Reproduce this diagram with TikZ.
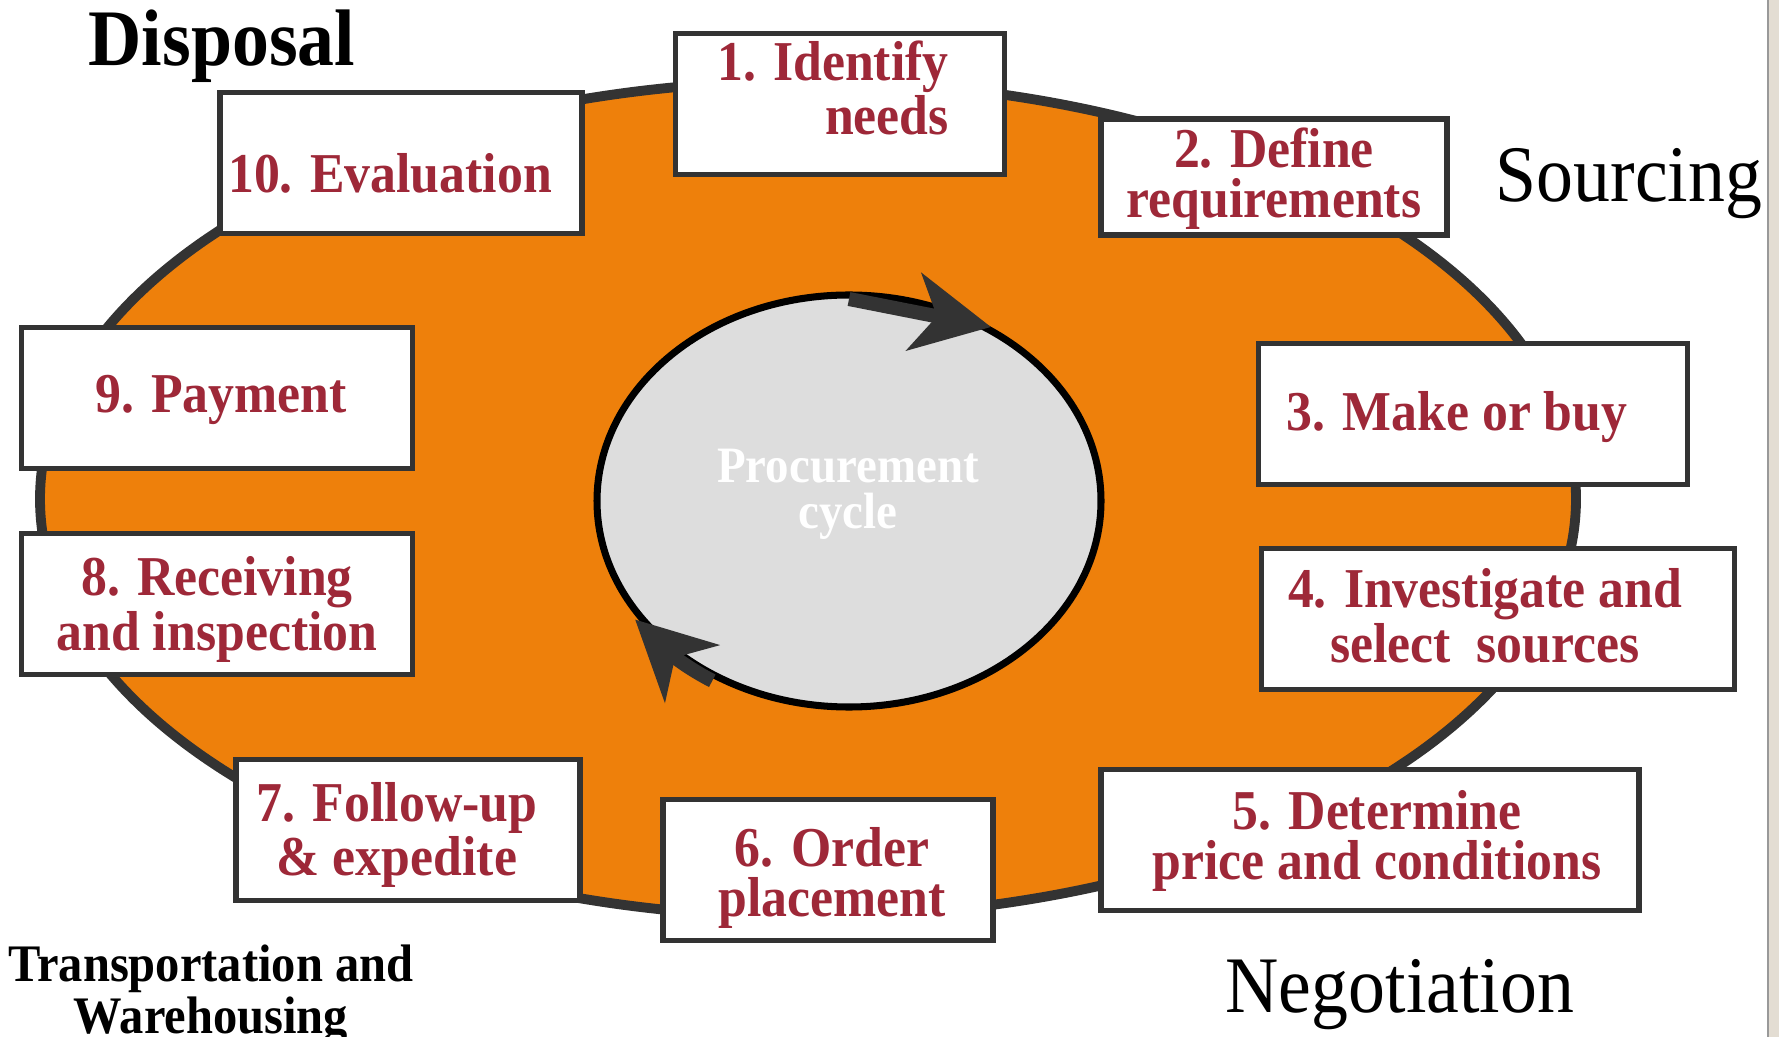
\documentclass[tikz,border=0pt]{standalone}
\usepackage{fontspec}
\setmainfont{Liberation Serif}[FakeStretch=0.92]
\usetikzlibrary{arrows.meta,bending}
\definecolor{ringorange}{RGB}{238,128,11}
\definecolor{ringline}{RGB}{51,51,51}
\definecolor{hubgray}{RGB}{221,221,221}
\definecolor{steptxt}{RGB}{158,40,56}
\definecolor{framegray}{RGB}{227,221,211}
\begin{document}
\begin{tikzpicture}[x=.01cm,y=-.01cm,
		box/.style={draw=ringline,line width=1.6pt,fill=white,minimum height=14.1mm,inner sep=0},
		steplbl/.style={text=steptxt,font=\bfseries\fontsize{16}{14.2}\selectfont,align=center,inner sep=0},
		phase/.style={font=\fontsize{22.8}{24}\selectfont,anchor=base west,inner sep=0},
		turn/.style={draw=ringline,line width=4pt,-{Stealth[length=7.8mm,width=7.8mm,inset=2.3mm,flex]}}]
		\useasboundingbox (0,0) rectangle (1779,1037);
		\fill[white] (0,0) rectangle (1779,1037);
		\fill[framegray] (1768,0) rectangle (1779,1037);
		\draw[gray!80,line width=.6pt] (1768,0)--(1768,1037);
		% ring and hub, pixel coordinates with y downwards
		\filldraw[fill=ringorange,draw=ringline,line width=2.8pt] (808,499) ellipse[x radius=768,y radius=418];
		\filldraw[fill=hubgray,draw=black,line width=2pt] (849,501) ellipse[x radius=252,y radius=206];
		\coordinate (top) at (849,299);
		\coordinate (tip) at (991,327);
		\draw[turn] (top)--(tip);
		\draw[turn] (849,501) ++(122:258 and 212) arc[start angle=122,end angle=146,x radius=258,y radius=212];
		\node[text=white,font=\bfseries\fontsize{14.5}{13.1}\selectfont,align=center,inner sep=0] (hub) at (848,494) {Procurement\\cycle};
		% the ten steps
		\node[box,minimum width=32.9mm] (b1) at (840,104) {};
		\node[box,minimum width=34.6mm,minimum height=11.6mm] (b2) at (1274,177) {};
		\node[box,minimum width=42.9mm] (b3) at (1473,414) {};
		\node[box,minimum width=47.3mm] (b4) at (1498,619) {};
		\node[box,minimum width=53.8mm] (b5) at (1370,840) {};
		\node[box,minimum width=33.0mm] (b6) at (828,870) {};
		\node[box,minimum width=34.4mm] (b7) at (408,830) {};
		\node[box,minimum width=39.1mm] (b8) at (217,604) {};
		\node[box,minimum width=39.1mm] (b9) at (217,398) {};
		\node[box,minimum width=36.2mm] (b10) at (401,163) {};
		\node[steplbl,align=right] (l1) at (833,88) {1. Identify\\needs};
		\node[steplbl] (l2) at (1274,179) {2. Define\\requirements};
		\node[steplbl] (l3) at (1457,417) {3. Make or buy};
		\node[steplbl] (l4) at (1485,616) {4. Investigate and\\select\ \ sources};
		\node[steplbl] (l5) at (1377,841) {5. Determine\\price and conditions};
		\node[steplbl] (l6) at (832,878) {6. Order\\placement};
		\node[steplbl] (l7) at (397,835) {7. Follow-up\\\& expedite};
		\node[steplbl] (l8) at (217,609) {8. Receiving\\and inspection};
		\node[steplbl] (l9) at (221,400) {9. Payment};
		\node[steplbl] (l10) at (390,173) {10. Evaluation};
		% phase names
		\node[phase,font=\bfseries\fontsize{22.8}{24}\selectfont] (disp) at (88,66) {Disposal};
		\node[phase] (src) at (1495,202) {Sourcing};
		\node[phase] (neg) at (1225,1012) {Negotiation};
		\node[font=\bfseries\fontsize{15}{13.1}\selectfont,align=center,inner sep=0] (trans) at (211,995) {Transportation and\\Warehousing};
	\end{tikzpicture}
\end{document}
